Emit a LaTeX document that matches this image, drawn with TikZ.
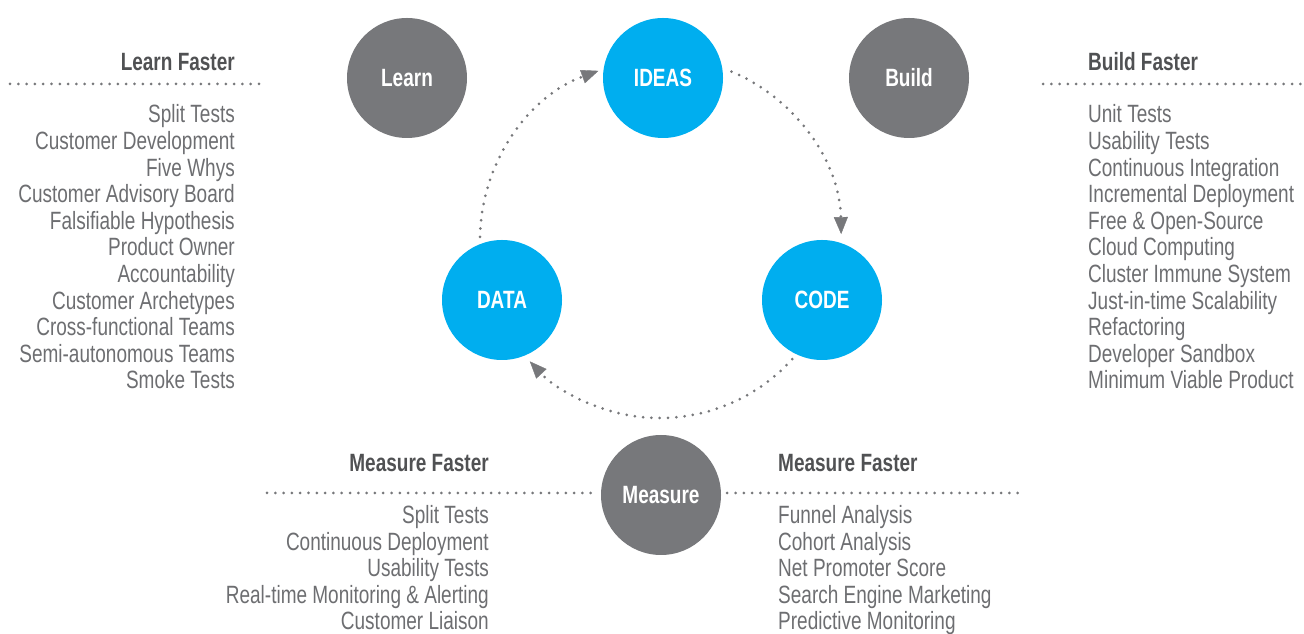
\documentclass[tikz,border=0pt]{standalone}
\usepackage{fontspec}
\setmainfont[FakeStretch=0.76]{Liberation Sans}
\usetikzlibrary{arrows.meta,calc}
\definecolor{cgray}{HTML}{77787B}
\definecolor{cblue}{HTML}{00AEEF}
\definecolor{ctext}{HTML}{6D6E71}
\definecolor{chead}{HTML}{505153}
\definecolor{cdot}{HTML}{77787B}
\begin{document}
\begin{tikzpicture}[x=1pt,y=1pt,
  bubble/.style={circle, minimum size=120pt, inner sep=0pt, text=white, font=\bfseries\fontsize{25}{30}\selectfont},
  graybub/.style={bubble, fill=cgray},
  bluebub/.style={bubble, fill=cblue},
  head/.style={inner sep=0pt, text=chead, font=\bfseries\fontsize{25}{30}\selectfont},
  item/.style={inner sep=0pt, text=ctext, font=\fontsize{25}{30}\selectfont},
  dotline/.style={draw=cdot, line width=3pt, line cap=round, dash pattern=on 0pt off 8.3pt},
  arrowhd/.style={-{Triangle[length=17pt,width=14pt,line width=0.4pt]}}
]
\useasboundingbox (0,0) rectangle (1304,634);

% circles
\node[graybub] (learn) at (407,556) {Learn};
\node[bluebub] (ideas) at (663,556) {IDEAS};
\node[graybub] (build) at (909,556) {Build};
\node[bluebub] (data) at (502,334) {DATA};
\node[bluebub] (code) at (822,334) {CODE};
\node[graybub] (meas) at (661,139) {Measure};

% cycle arcs
\coordinate (cyc) at (660,394);
\draw[dotline, arrowhd] ($(cyc)+(179:180)$) arc[start angle=179, end angle=110, radius=180];
\draw[dotline, arrowhd] ($(cyc)+(67:183)$) arc[start angle=67, end angle=1, radius=180];
\draw[dotline, arrowhd] ($(cyc)+(-42:178)$) arc[start angle=-42, end angle=-137, radius=178];

% dotted rules
\coordinate (lfa) at (10,550);
\coordinate (lfb) at (265,550);
\coordinate (bfa) at (1043,550);
\coordinate (bfb) at (1304,550);
\coordinate (mla) at (267,141);
\coordinate (mrb) at (1025,141);
\draw[dotline] (lfa) -- (lfb);
\draw[dotline] (bfa) -- (bfb);
\draw[dotline] (mla) -- ($(meas.west |- mla)+(-4,0)$);
\draw[dotline] ($(meas.east |- mrb)+(6,0)$) -- (mrb);

% headers
\node[head, anchor=base east] (hlearn) at (235,563) {Learn Faster};
\node[head, anchor=base west] (hbuild) at (1088,563) {Build Faster};
\node[head, anchor=base east] (hml) at (489,162) {Measure Faster};
\node[head, anchor=base west] (hmr) at (778,162) {Measure Faster};

% lists
\foreach \t [count=\i from 0] in {Split Tests, Customer Development, Five Whys, Customer Advisory Board, Falsifiable Hypothesis, Product Owner, Accountability, Customer Archetypes, Cross-functional Teams, Semi-autonomous Teams, Smoke Tests}
  \node[item, anchor=base east] (L\i) at (235,{511-26.6*\i}) {\t};

\foreach \t [count=\i from 0] in {Unit Tests, Usability Tests, Continuous Integration, Incremental Deployment, Free \& Open-Source, Cloud Computing, Cluster Immune System, Just-in-time Scalability, Refactoring, Developer Sandbox, Minimum Viable Product}
  \node[item, anchor=base west] (B\i) at (1088,{511-26.6*\i}) {\t};

\foreach \t [count=\i from 0] in {Split Tests, Continuous Deployment, Usability Tests, Real-time Monitoring \& Alerting, Customer Liaison}
  \node[item, anchor=base east] (ML\i) at (489,{110-26.5*\i}) {\t};

\foreach \t [count=\i from 0] in {Funnel Analysis, Cohort Analysis, Net Promoter Score, Search Engine Marketing, Predictive Monitoring}
  \node[item, anchor=base west] (MR\i) at (778,{110-26.5*\i}) {\t};
\end{tikzpicture}
\end{document}
